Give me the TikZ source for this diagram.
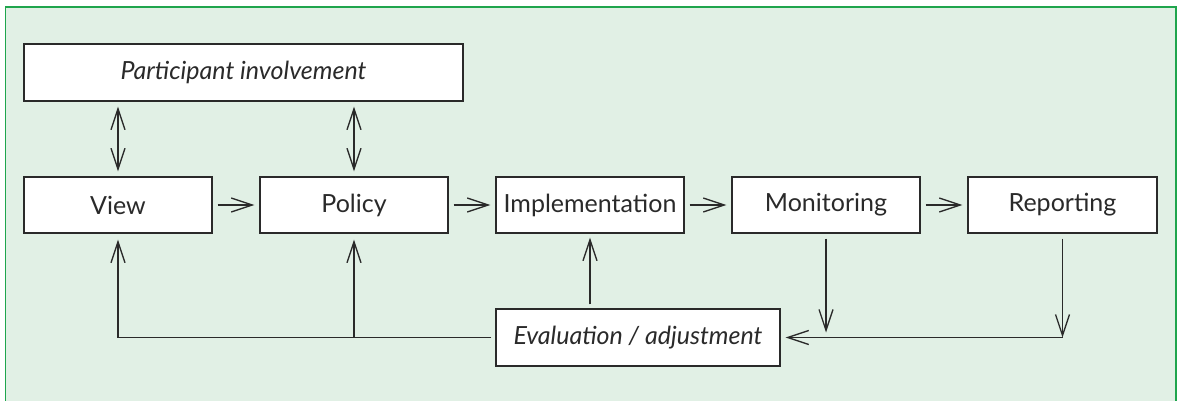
\documentclass[tikz,border=0pt]{standalone}
\usepackage{fontspec}
\setmainfont{Lato}
\usetikzlibrary{arrows.meta}
\definecolor{bgfill}{HTML}{E1F0E5}
\definecolor{frame}{HTML}{1FA54D}
\definecolor{ink}{HTML}{2A2A2A}
\begin{document}
\begin{tikzpicture}[x=1pt,y=-1pt,
  barb/.tip={Straight Barb[length=21pt,width=14pt,line width=1.3pt]},
  box/.style={draw=ink,line width=1.4pt,fill=white,minimum height=56pt,inner sep=0pt,text=ink,font=\fontsize{25}{28}\selectfont},
  conn/.style={draw=ink,line width=1.3pt,-barb},
  dconn/.style={draw=ink,line width=1.3pt,barb-barb},
  plain/.style={draw=ink,line width=1.3pt}]
\useasboundingbox (0,0) rectangle (1179,401);
\fill[bgfill] (5.5,7) rectangle (1176,401);
\draw[frame,line width=1.5pt] (5.5,402) -- (5.5,7) -- (1176,7) -- (1176,402);

\node[box,minimum width=439pt,minimum height=57pt] (part) at (243.5,72.5) {\itshape Participant involvement};
\node[box,minimum width=188pt] (view) at (118,205) {View};
\node[box,minimum width=188pt] (policy) at (354,205) {Policy};
\node[box,minimum width=188pt] (impl) at (590,205) {Implementation};
\node[box,minimum width=188pt] (mon) at (826,205) {Monitoring};
\node[box,minimum width=189pt] (rep) at (1062.5,205) {Reporting};
\node[box,minimum width=284pt,minimum height=57pt] (eval) at (638,337.5) {\itshape Evaluation / adjustment};

\draw[conn,shorten <=5pt,shorten >=5pt] (view) -- (policy);
\draw[conn,shorten <=5pt,shorten >=5pt] (policy) -- (impl);
\draw[conn,shorten <=5pt,shorten >=5pt] (impl) -- (mon);
\draw[conn,shorten <=5pt,shorten >=5pt] (mon) -- (rep);

\draw[dconn,shorten <=5pt,shorten >=5pt] (part.south -| view) -- (view);
\draw[dconn,shorten <=5pt,shorten >=5pt] (part.south -| policy) -- (policy);

\coordinate (lv) at (view |- eval);
\coordinate (lp) at (policy |- eval);
\coordinate (lm) at (mon |- eval);
\coordinate (lr) at (rep |- eval);

\draw[plain,shorten <=4pt] (eval.west) -- (lv);
\draw[conn,shorten >=6pt] (lv) -- (view);
\draw[conn,shorten >=6pt] (lp) -- (policy);
\draw[conn,shorten <=4pt,shorten >=4pt] (eval.north -| impl) -- (impl);
\draw[conn,shorten <=5pt,shorten >=5pt] (mon) -- (lm);
\draw[conn,shorten <=5pt] (rep) -- (lr);
\draw[conn,shorten >=5pt] (lr) -- (eval.east);
\end{tikzpicture}
\end{document}
